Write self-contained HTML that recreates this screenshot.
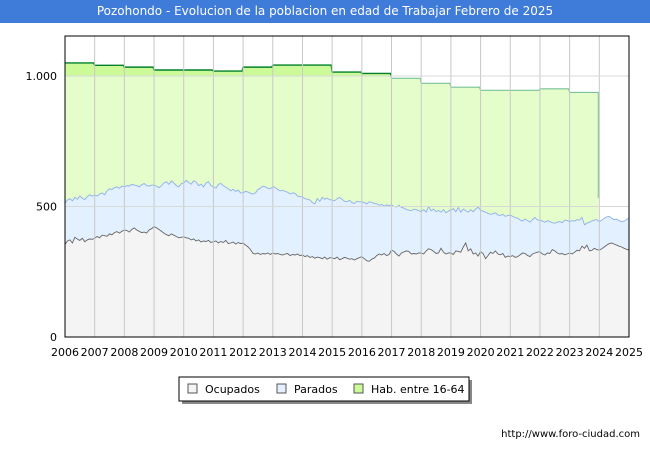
<!DOCTYPE html>
<html><head><meta charset="utf-8"><style>
body{margin:0;background:#fff;font-family:"DejaVu Sans","Liberation Sans",sans-serif}
#wrap{position:relative;width:650px;height:450px;overflow:hidden}
#title{position:absolute;left:0;top:0;width:650px;height:23px;background:#3f7bd8;color:#fff;font-size:12px;line-height:23px;text-align:center}
svg text{font-family:"DejaVu Sans","Liberation Sans",sans-serif}
</style></head><body>
<div id="wrap">
<div id="title">Pozohondo - Evolucion de la poblacion en edad de Trabajar Febrero de 2025</div>
<svg id="svg" width="650" height="450" style="position:absolute;left:0;top:0"></svg>
</div>
<script>
const years=[2006,2007,2008,2009,2010,2011,2012,2013,2014,2015,2016,2017,2018,2019,2020,2021,2022,2023,2024,2025];
const yTicks=[0,500,1000];
const yTickLabels=["0","500","1.000"];
const habYears=[2006,2007,2008,2009,2010,2011,2012,2013,2014,2015,2016,2017,2018,2019,2020,2021,2022,2023,2024];
const habValues=[1050,1041,1034,1023,1023,1019,1034,1042,1042,1015,1010,991,972,957,945,945,951,937,532];
const parados=[513,525,530,522,535,528,540,532,526,538,545,540,
544,540,548,552,545,560,568,565,572,575,570,578,
575,580,578,585,582,580,575,583,588,580,578,582,
582,578,572,580,590,595,585,598,590,580,575,588,
590,600,592,585,598,594,580,586,575,590,595,580,
576,570,585,588,580,574,568,560,566,558,563,552,
552,558,555,550,548,552,565,570,578,575,570,568,
576,572,565,560,562,558,555,548,552,550,540,538,
536,530,528,525,515,510,530,520,535,528,532,526,
525,522,530,535,528,520,518,524,515,512,520,518,
518,515,510,518,516,512,510,505,508,502,506,504,
506,500,498,505,496,494,488,486,484,490,488,484,
480,488,478,500,484,490,480,485,478,488,476,482,
486,492,480,496,478,490,484,478,488,480,490,498,
486,482,478,474,470,472,476,468,466,470,462,466,
467,462,458,455,448,444,452,446,440,450,458,448,
448,444,440,446,442,438,436,440,442,438,448,446,
442,446,444,450,448,458,430,436,440,445,448,450,
442,448,455,460,462,455,450,452,446,442,444,450,
456];
const ocupados=[355,368,372,360,382,375,370,378,365,372,376,374,
379,385,380,390,388,386,395,392,400,404,398,405,
410,408,402,412,418,410,405,400,402,398,410,415,
423,418,412,405,398,392,388,395,390,385,380,382,
384,380,378,372,376,368,372,364,368,366,370,362,
365,368,360,366,362,370,358,360,364,356,362,358,
360,352,345,335,320,318,322,316,320,318,322,316,
322,318,320,316,314,318,320,312,316,314,318,312,
314,308,312,305,308,302,306,304,300,306,298,304,
303,300,306,296,300,305,302,298,300,295,300,304,
308,300,292,290,298,302,312,318,314,320,312,316,
333,328,318,310,322,326,330,328,318,320,318,322,
322,318,330,338,335,328,320,322,340,325,318,322,
322,316,330,328,325,345,360,330,338,318,322,310,
327,320,300,312,325,320,330,318,315,320,305,310,
308,312,305,308,315,322,320,312,308,318,322,325,
327,318,314,322,320,335,330,322,318,320,315,318,
322,318,325,332,330,348,340,352,330,332,340,335,
333,338,345,352,358,360,356,352,348,345,340,336,
333];
const X0=65,X1=629,Y0=337,YT=36;
const xs=t=>X0+(t-2006)*(X1-X0)/19;
const ys=v=>Y0-v*0.261;
const svg=document.getElementById('svg');
const NS='http://www.w3.org/2000/svg';
function mk(tag,attrs,parent){const e=document.createElementNS(NS,tag);for(const k in attrs)e.setAttribute(k,attrs[k]);(parent||svg).appendChild(e);return e;}
const defs=mk('defs',{});
const cp=mk('clipPath',{id:'above'},defs);mk('rect',{x:0,y:0,width:650,height:ys(1000)},cp);
const cb=mk('clipPath',{id:'below'},defs);mk('rect',{x:0,y:ys(1000),width:650,height:450},cb);
mk('rect',{x:X0,y:YT,width:X1-X0,height:Y0-YT,fill:'#fff'});
let hp='';
const last=habYears.length-1;
for(let i=0;i<last;i++){
  const xa=xs(habYears[i]),xb=xs(habYears[i+1])-1;
  hp+=(i===0?'M':'L')+xa+','+ys(habValues[i])+' L'+xb+','+ys(habValues[i]);
}
const xEnd=xs(habYears[last])-1;
hp+=' L'+xEnd+','+ys(habValues[last]);
const habFill=hp+' L'+xEnd+','+Y0+' L'+X0+','+Y0+' Z';
let g=mk('g',{});


mk('path',{d:habFill,fill:'#e4fdca'},g);
mk('path',{d:habFill,fill:'#ccfa98','clip-path':'url(#above)'},g);
mk('path',{d:hp,fill:'none',stroke:'#7ac29a','stroke-width':1.1,'clip-path':'url(#below)'},g);
mk('path',{d:hp,fill:'none',stroke:'#00802b','stroke-width':1.4,'clip-path':'url(#above)'},g);
function series(arr){let d='';arr.forEach((v,i)=>{d+=(i?'L':'M')+xs(2006+i/12).toFixed(1)+','+ys(v).toFixed(1)+' ';});return d;}
const pd=series(parados),od=series(ocupados);
const xl=xs(2006+(parados.length-1)/12);
g=mk('g',{});


mk('path',{d:pd+'L'+xl+','+Y0+' L'+X0+','+Y0+' Z',fill:'#e2f0ff'},g);
mk('path',{d:pd,fill:'none',stroke:'#8fb0ee','stroke-width':0.9},g);
g=mk('g',{});


mk('path',{d:od+'L'+xl+','+Y0+' L'+X0+','+Y0+' Z',fill:'#f4f4f4'},g);
mk('path',{d:od,fill:'none',stroke:'#666','stroke-width':0.9},g);
years.forEach(y=>{if(y>2006)mk('line',{x1:xs(y),x2:xs(y),y1:YT,y2:Y0,stroke:'#c8c8c8','stroke-width':1});});
yTicks.forEach((v,i)=>{if(v>0)mk('line',{x1:X0,x2:X1,y1:ys(v),y2:ys(v),stroke:'#d8d8d8','stroke-width':1});
 const t=mk('text',{x:57,y:ys(v)+4,'text-anchor':'end','font-size':11,fill:'#000'});t.textContent=yTickLabels[i];
 });
years.forEach(y=>{const t=mk('text',{x:xs(y),y:356,'text-anchor':'middle','font-size':11,fill:'#000'});t.textContent=y;
 });
mk('rect',{x:X0,y:YT,width:X1-X0,height:Y0-YT,fill:'none',stroke:'#000','stroke-width':1});
const lg=mk('g',{});


mk('rect',{x:182,y:380,width:290,height:24,fill:'#888'},lg);
mk('rect',{x:179,y:377,width:290,height:24,fill:'#fff',stroke:'#000','stroke-width':1},lg);
[['Ocupados','#f4f4f4',188],['Parados','#e2f0ff',277],['Hab. entre 16-64','#ccfa98',354]].forEach(([n,c,x])=>{
 const e=mk('g',{},lg);
 
 
 mk('rect',{x:x,y:384,width:9,height:9,fill:c,stroke:'#555'},e);
 const t=mk('text',{x:x+17,y:393,'font-size':11,fill:'#000'},e);t.textContent=n;});
const u=mk('text',{x:640,y:437,'text-anchor':'end','font-size':10,fill:'#000'});u.textContent='http://www.foro-ciudad.com';

</script>
</body></html>
